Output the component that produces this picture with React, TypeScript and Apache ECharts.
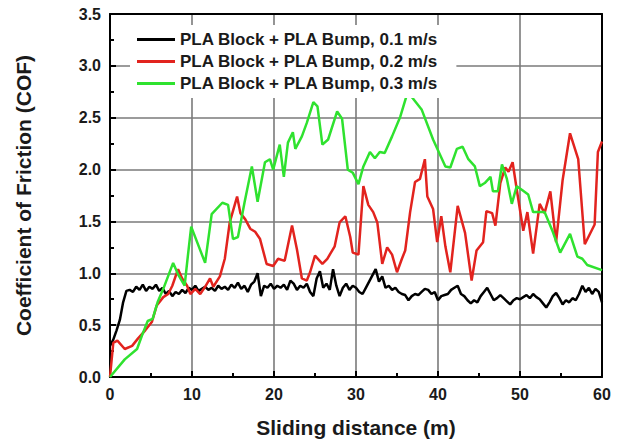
import React, { useEffect, useRef } from "react";
import * as echarts from "echarts";

const seriesNames = [
  "PLA Block + PLA Bump, 0.1 m/s",
  "PLA Block + PLA Bump, 0.2 m/s",
  "PLA Block + PLA Bump, 0.3 m/s",
];

// 0.1 m/s: sampled every 0.4 m from 0 to 60 m
const blackStep = 0.4;
const blackValues = [
  0.30, 0.36, 0.45, 0.55, 0.72, 0.83, 0.84, 0.82, 0.87, 0.84,
  0.89, 0.83, 0.87, 0.85, 0.89, 0.83, 0.86, 0.80, 0.83, 0.78,
  0.82, 0.80, 0.84, 0.81, 0.86, 0.84, 0.88, 0.83, 0.85, 0.87,
  0.84, 0.86, 0.83, 0.88, 0.85, 0.87, 0.84, 0.89, 0.86, 0.91,
  0.85, 0.88, 0.82, 0.89, 0.92, 1.00, 0.78, 0.88, 0.86, 0.90,
  0.85, 0.88, 0.86, 0.89, 0.84, 0.93, 0.90, 0.84, 0.88, 0.86,
  0.90, 0.82, 0.78, 0.95, 1.02, 0.86, 0.90, 0.84, 1.04, 0.88,
  0.78, 0.86, 0.90, 0.84, 0.88, 0.86, 0.82, 0.80, 0.86, 0.92,
  0.98, 1.04, 0.92, 0.97, 0.86, 0.88, 0.84, 0.86, 0.82, 0.80,
  0.79, 0.74, 0.78, 0.80, 0.79, 0.82, 0.85, 0.84, 0.80, 0.82,
  0.74, 0.78, 0.79, 0.80, 0.84, 0.86, 0.88, 0.80, 0.78, 0.74,
  0.71, 0.74, 0.72, 0.78, 0.82, 0.86, 0.80, 0.74, 0.76, 0.79,
  0.76, 0.73, 0.70, 0.74, 0.76, 0.75, 0.77, 0.79, 0.76, 0.80,
  0.77, 0.75, 0.71, 0.67, 0.72, 0.78, 0.81, 0.76, 0.70, 0.74,
  0.72, 0.76, 0.74, 0.80, 0.88, 0.82, 0.86, 0.80, 0.85, 0.82,
  0.72,
];

// 0.2 m/s: [distance, COF]
const redPoints = [
  [0, 0], [0.4, 0.33], [0.9, 0.35], [1.8, 0.27], [2.7, 0.3], [3.4, 0.37], [4.3, 0.45],
  [5.1, 0.53], [5.7, 0.69], [6.5, 0.77], [7.1, 0.8], [7.6, 0.88], [8.3, 1.04], [8.8, 0.95],
  [9.4, 0.88], [9.8, 0.8], [10.4, 0.85], [11.0, 0.8], [11.6, 0.87], [12.2, 0.95], [12.6, 0.87],
  [13.4, 0.97], [14.0, 1.14], [14.6, 1.49], [15.5, 1.74], [15.9, 1.58], [16.5, 1.52],
  [17.1, 1.43], [17.7, 1.4], [18.3, 1.33], [19.1, 1.09], [19.9, 1.07], [20.5, 1.14],
  [21.3, 1.12], [22.2, 1.46], [22.8, 1.23], [23.4, 0.95], [24.0, 0.93], [24.4, 1.01],
  [25.0, 1.17], [25.9, 1.09], [26.5, 1.14], [27.4, 1.26], [28.0, 1.49], [28.7, 1.55],
  [29.3, 1.35], [29.6, 1.2], [30.3, 1.18], [30.9, 1.84], [31.5, 1.66], [32.1, 1.59],
  [32.6, 1.49], [33.2, 1.09], [33.8, 1.25], [34.4, 1.18], [35.0, 1.01], [35.6, 1.14],
  [36.0, 1.22], [36.6, 1.59], [37.2, 1.88], [37.8, 1.91], [38.4, 2.1], [38.7, 1.74],
  [39.4, 1.62], [39.9, 1.3], [40.4, 1.55], [40.9, 1.26], [41.5, 1.01], [42.4, 1.65],
  [43.3, 1.39], [44.1, 0.93], [44.7, 1.22], [45.5, 1.3], [45.9, 1.6], [46.6, 1.58],
  [47.0, 1.46], [47.6, 1.87], [48.2, 2.02], [48.6, 1.98], [49.1, 2.07], [49.6, 1.81],
  [50.4, 1.41], [50.9, 1.59], [51.6, 1.19], [52.4, 1.67], [53.0, 1.58], [53.7, 1.79],
  [54.4, 1.3], [55.2, 1.9], [56.1, 2.35], [57.1, 2.1], [57.9, 1.28], [59.1, 1.47],
  [59.5, 2.17], [60, 2.27],
];

// 0.3 m/s: [distance, COF]
const greenPoints = [
  [0, 0], [1.8, 0.17], [3.3, 0.27], [3.9, 0.4], [4.6, 0.54], [5.2, 0.56], [5.8, 0.72],
  [6.5, 0.85], [7.7, 1.1], [8.3, 0.99], [9.1, 0.88], [9.5, 1.17], [9.9, 1.45], [11.6, 1.1],
  [12.4, 1.57], [13.7, 1.68], [14.4, 1.66], [15.0, 1.33], [15.6, 1.35], [16.4, 1.68],
  [17.3, 2.03], [18.0, 1.69], [18.9, 2.07], [19.5, 2.1], [19.9, 2.0], [20.7, 2.24],
  [21.2, 1.93], [21.7, 2.26], [22.3, 2.36], [22.6, 2.2], [23.4, 2.32], [24.0, 2.45],
  [24.8, 2.65], [25.3, 2.61], [25.9, 2.24], [26.6, 2.29], [27.7, 2.56], [28.3, 2.49],
  [29.0, 2.0], [29.6, 1.97], [30.3, 1.86], [30.9, 2.03], [31.7, 2.17], [32.3, 2.11],
  [32.9, 2.17], [33.5, 2.16], [34.4, 2.32], [35.4, 2.51], [36.2, 2.72], [36.8, 2.7],
  [38.0, 2.58], [39.4, 2.29], [40.9, 2.03], [41.5, 2.02], [42.3, 2.2], [43.0, 2.22],
  [43.7, 2.1], [44.5, 2.03], [45.1, 1.84], [45.7, 1.87], [46.4, 1.93], [46.7, 1.79],
  [47.3, 1.79], [47.8, 2.05], [48.4, 1.91], [49.0, 1.67], [49.6, 1.84], [50.3, 1.8],
  [51.0, 1.76], [51.6, 1.59], [53.0, 1.59], [54.0, 1.4], [54.9, 1.2], [56.1, 1.38],
  [57.0, 1.16], [57.6, 1.14], [58.2, 1.08], [60, 1.03],
];

const colors = ["#000000", "#e2231e", "#2fe22f"];

export default function App() {
  const ref = useRef<HTMLDivElement>(null);
  useEffect(() => {
    if (!ref.current) return;
    const chart = echarts.init(ref.current, null, { renderer: "svg" });
    const blackPoints = blackValues.map((v, i) => [+(i * blackStep).toFixed(2), v]);
    const font = "'Liberation Sans', Arial, sans-serif";
    const txt = "#1a1a1a";
    chart.setOption({
      animation: false,
      backgroundColor: "#ffffff",
      textStyle: { fontFamily: font },
      grid: { left: 110, right: 22, top: 14, bottom: 65 },
      legend: {
        orient: "vertical",
        left: 130,
        top: 25,
        padding: [6, 18, 6, 7],
        backgroundColor: "#ffffff",
        icon: "rect",
        itemWidth: 38,
        itemHeight: 3,
        itemGap: 5,
        data: seriesNames,
        textStyle: { fontFamily: font, fontSize: 17, lineHeight: 17, fontWeight: "bold", color: txt },
      },
      xAxis: [
        {
          type: "value",
          min: 0,
          max: 60,
          interval: 10,
          position: "bottom",
          name: "Sliding distance (m)",
          nameLocation: "middle",
          nameGap: 40,
          nameTextStyle: { fontFamily: font, fontSize: 21, fontWeight: "bold", color: txt },
          axisLine: { show: true, onZero: false, lineStyle: { color: "#000", width: 2 } },
          axisTick: { show: true, inside: true, length: 6, lineStyle: { color: "#000", width: 2 } },
          minorTick: { show: true, splitNumber: 2, length: 4, lineStyle: { color: "#000", width: 2 } },
          axisLabel: { fontFamily: font, fontSize: 16, fontWeight: "bold", color: txt, margin: 9 },
          splitLine: { show: true, lineStyle: { color: "#7a7a7a", width: 1.6 } },
        },
        {
          type: "value",
          min: 0,
          max: 60,
          position: "top",
          axisLine: { show: true, onZero: false, lineStyle: { color: "#000", width: 2 } },
          axisTick: { show: false },
          axisLabel: { show: false },
          splitLine: { show: false },
        },
      ],
      yAxis: [
        {
          type: "value",
          min: 0,
          max: 3.5,
          interval: 0.5,
          position: "left",
          name: "Coefficient of Friction (COF)",
          nameLocation: "middle",
          nameGap: 76,
          nameTextStyle: { fontFamily: font, fontSize: 21, fontWeight: "bold", color: txt },
          axisLine: { show: true, onZero: false, lineStyle: { color: "#000", width: 2 } },
          axisTick: { show: true, inside: true, length: 6, lineStyle: { color: "#000", width: 2 } },
          minorTick: { show: true, splitNumber: 2, length: 4, lineStyle: { color: "#000", width: 2 } },
          axisLabel: {
            fontFamily: font,
            fontSize: 16,
            fontWeight: "bold",
            color: txt,
            margin: 9,
            formatter: (v: number) => v.toFixed(1),
          },
          splitLine: { show: true, lineStyle: { color: "#7a7a7a", width: 1.6 } },
        },
        {
          type: "value",
          min: 0,
          max: 3.5,
          position: "right",
          axisLine: { show: true, onZero: false, lineStyle: { color: "#000", width: 2 } },
          axisTick: { show: false },
          axisLabel: { show: false },
          splitLine: { show: false },
        },
      ],
      series: [
        { name: seriesNames[0], type: "line", data: blackPoints, color: colors[0], showSymbol: false, symbol: "none", lineStyle: { width: 2.5, color: colors[0] } },
        { name: seriesNames[1], type: "line", data: redPoints, color: colors[1], showSymbol: false, symbol: "none", lineStyle: { width: 2.5, color: colors[1] } },
        { name: seriesNames[2], type: "line", data: greenPoints, color: colors[2], showSymbol: false, symbol: "none", lineStyle: { width: 2.5, color: colors[2] } },
      ],
    });
    return () => chart.dispose();
  }, []);
  return (
    <div
      ref={ref}
      style={{ position: "fixed", left: 0, top: 0, width: 624, height: 443, background: "#fff" }}
    />
  );
}
